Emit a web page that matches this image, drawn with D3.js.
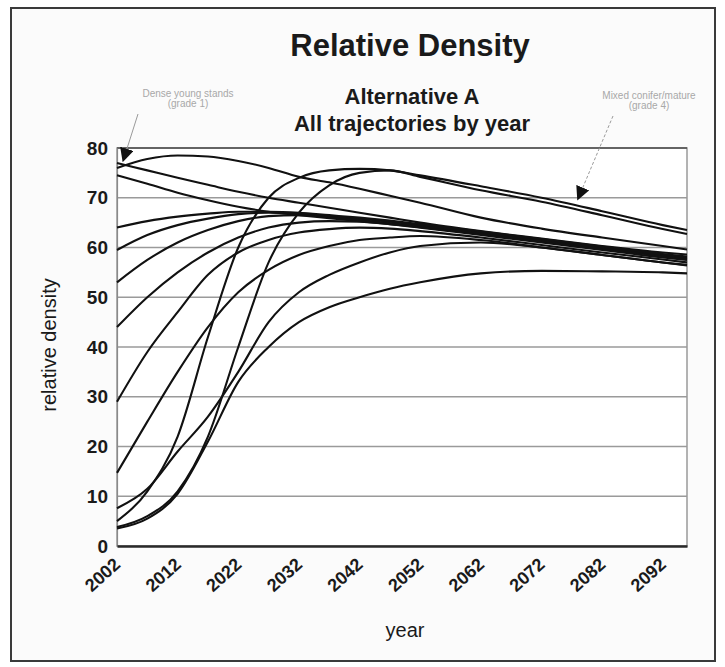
<!DOCTYPE html>
<html>
<head>
<meta charset="utf-8">
<script src="https://cdn.jsdelivr.net/npm/d3@7"></script>
<style>
  html, body { margin: 0; padding: 0; background: #ffffff; }
  svg { display: block; }
  text { font-family: "Liberation Sans", Arial, sans-serif; }
</style>
</head>
<body>
<svg id="chart" width="725" height="667"></svg>
<script>
// Sample years shared by every trajectory
const years = [2002, 2007, 2012, 2017, 2022, 2027, 2032, 2037, 2042, 2047, 2052, 2062, 2072, 2082, 2092, 2096];

// Relative density per trajectory (one value per sample year)
const trajPeakEarly = [76, 77.8, 78.5, 78.3, 77.4, 76, 74.2, 73.1, 71.8, 70.4, 69, 66, 63.8, 62, 60.3, 59.6];
const trajHigh77    = [77, 75.5, 74, 72.6, 71.2, 70, 69, 68, 67, 66, 65, 63.3, 61.8, 60.3, 59, 58.6];
const trajHigh74    = [74.5, 72.8, 71, 69.5, 68.2, 67.2, 66.5, 65.9, 65.3, 64.7, 64.1, 62.7, 61.2, 59.7, 58.3, 57.7];
const trajFastA     = [5, 11, 22, 42, 60, 70, 74, 75.5, 75.8, 75.5, 74.5, 72.3, 70, 67.3, 64.5, 63.5];
const trajFastB     = [3.8, 6, 11, 22, 40, 57, 67, 72.5, 75, 75.5, 74.2, 71.5, 69.2, 66.5, 63.7, 62.7];
const trajSlowA     = [3.5, 5.5, 10.5, 21, 33, 40, 45, 48, 50, 51.7, 53, 54.8, 55.3, 55.2, 55, 54.8];
const trajSlowB     = [7.6, 11.5, 19, 26, 35, 45, 51, 54.5, 57, 59, 60.3, 61, 60, 58.5, 57, 56.4];
const trajStart15   = [14.7, 25, 35, 44, 51, 55.5, 58.5, 60.3, 61.5, 62, 62.3, 61.5, 60, 58.5, 57, 56.5];
const trajStart29   = [29, 39, 47, 54.5, 59, 61.5, 63, 63.7, 64, 63.8, 63.3, 62, 60.5, 59, 57.6, 57];
const trajStart44   = [44, 50, 55, 59, 62, 64, 65, 65.3, 65.2, 64.7, 64, 62.5, 61, 59.5, 58, 57.5];
const trajStart53   = [53, 57.5, 61, 63.5, 65.3, 66.3, 66.5, 66.1, 65.5, 64.9, 64.3, 62.8, 61.3, 59.8, 58.3, 57.8];
const trajStart59   = [59.5, 62.5, 64.5, 65.8, 66.7, 67, 66.8, 66.3, 65.8, 65.2, 64.5, 63, 61.5, 60, 58.5, 58];
const trajStart64   = [64, 65.3, 66.2, 66.8, 67.2, 67.2, 67, 66.5, 66, 65.4, 64.7, 63.2, 61.7, 60.2, 58.7, 58.2];

const trajectories = [
  trajPeakEarly, trajHigh77, trajHigh74, trajFastA, trajFastB, trajSlowA, trajSlowB,
  trajStart15, trajStart29, trajStart44, trajStart53, trajStart59, trajStart64
];

// Axis ticks
const yTicks = [0, 10, 20, 30, 40, 50, 60, 70, 80];
const xTickYears = [2002, 2012, 2022, 2032, 2042, 2052, 2062, 2072, 2082, 2092];

// Titles and notes
const titleText = "Relative Density";
const subtitleLines = ["Alternative A", "All trajectories by year"];
const noteLeft = ["Dense young stands", "(grade 1)"];
const noteRight = ["Mixed conifer/mature", "(grade 4)"];

const svg = d3.select("#chart");

// Frame of the chart
svg.append("rect")
  .attr("x", 11).attr("y", 8).attr("width", 704).attr("height", 653)
  .attr("fill", "#fbfbfb").attr("stroke", "#3a3a3a").attr("stroke-width", 2);

const x = d3.scaleLinear().domain([2002, 2096]).range([117, 687]);
const y = d3.scaleLinear().domain([0, 80]).range([546, 148]);

// Plot area
svg.append("rect")
  .attr("x", x(2002)).attr("y", y(80))
  .attr("width", x(2096) - x(2002)).attr("height", y(0) - y(80))
  .attr("fill", "#ffffff").attr("stroke", "#9a9a9a").attr("stroke-width", 1.5);

// Horizontal gridlines
svg.append("g").selectAll("line")
  .data(yTicks.filter(v => v > 0))
  .join("line")
  .attr("x1", x(2002)).attr("x2", x(2096))
  .attr("y1", d => y(d)).attr("y2", d => y(d))
  .attr("stroke", d => d === 80 ? "#4a4a4a" : "#9a9a9a")
  .attr("stroke-width", 1.6);

// Y axis
const yAxis = svg.append("g")
  .attr("transform", `translate(${x(2002)},0)`)
  .call(d3.axisLeft(y).tickValues(yTicks).tickSize(0).tickPadding(9));
yAxis.select(".domain").attr("stroke", "#8a8a8a").attr("stroke-width", 1.2);
yAxis.selectAll("text")
  .attr("font-size", 19).attr("font-weight", "bold").attr("fill", "#1a1a1a")
  .style("font-family", "'Liberation Sans', Arial, sans-serif");

// X axis
const xAxis = svg.append("g")
  .attr("transform", `translate(0,${y(0)})`)
  .call(d3.axisBottom(x).tickValues(xTickYears).tickSize(0).tickFormat(d3.format("d")));
xAxis.select(".domain").attr("stroke", "#2a2a2a").attr("stroke-width", 2.6);
xAxis.selectAll("text")
  .attr("font-size", 18).attr("font-weight", "bold").attr("fill", "#1a1a1a")
  .style("font-family", "'Liberation Sans', Arial, sans-serif")
  .attr("text-anchor", "end")
  .attr("dy", null)
  .attr("y", 0)
  .attr("transform", "translate(4,20) rotate(-42)");

// Trajectory lines
const line = d3.line()
  .x((d, i) => x(years[i]))
  .y(d => y(d))
  .curve(d3.curveMonotoneX);

svg.append("g").selectAll("path")
  .data(trajectories)
  .join("path")
  .attr("d", d => line(d))
  .attr("fill", "none")
  .attr("stroke", "#111111")
  .attr("stroke-width", 2.1)
  .attr("stroke-linejoin", "round");

// Titles
svg.append("text")
  .attr("x", 410).attr("y", 56)
  .attr("text-anchor", "middle")
  .attr("font-size", 31).attr("font-weight", "bold").attr("fill", "#1a1a1a")
  .text(titleText);

svg.append("g").selectAll("text")
  .data(subtitleLines)
  .join("text")
  .attr("x", 412).attr("y", (d, i) => 104 + i * 27)
  .attr("text-anchor", "middle")
  .attr("font-size", 22).attr("font-weight", "bold").attr("fill", "#1a1a1a")
  .text(d => d);

// Axis titles
svg.append("text")
  .attr("transform", "translate(56,345) rotate(-90)")
  .attr("text-anchor", "middle")
  .attr("font-size", 20).attr("fill", "#1a1a1a")
  .text("relative density");

svg.append("text")
  .attr("x", 405).attr("y", 637)
  .attr("text-anchor", "middle")
  .attr("font-size", 20).attr("fill", "#1a1a1a")
  .text("year");

// Callout notes with arrows
const defs = svg.append("defs");
defs.append("marker")
  .attr("id", "arrowHead")
  .attr("viewBox", "0 0 10 10")
  .attr("refX", 9).attr("refY", 5)
  .attr("markerWidth", 14).attr("markerHeight", 14)
  .attr("markerUnits", "userSpaceOnUse")
  .attr("orient", "auto")
  .append("path")
  .attr("d", "M0,0 L10,5 L0,10 Z")
  .attr("fill", "#111111");

svg.append("g").selectAll("text")
  .data(noteLeft)
  .join("text")
  .attr("x", 188).attr("y", (d, i) => 97 + i * 10)
  .attr("text-anchor", "middle")
  .attr("font-size", 10).attr("fill", "#a8a8a8")
  .text(d => d);

svg.append("g").selectAll("text")
  .data(noteRight)
  .join("text")
  .attr("x", 649).attr("y", (d, i) => 99 + i * 10)
  .attr("text-anchor", "middle")
  .attr("font-size", 10).attr("fill", "#a8a8a8")
  .text(d => d);

svg.append("line")
  .attr("x1", 138).attr("y1", 114)
  .attr("x2", x(2003)).attr("y2", y(trajHigh77[0]) - 2)
  .attr("stroke", "#9a9a9a").attr("stroke-width", 1)
  .attr("marker-end", "url(#arrowHead)");

svg.append("line")
  .attr("x1", 613).attr("y1", 116)
  .attr("x2", x(2078)).attr("y2", y(69.7))
  .attr("stroke", "#9a9a9a").attr("stroke-width", 1)
  .attr("stroke-dasharray", "3,2")
  .attr("marker-end", "url(#arrowHead)");
</script>
</body>
</html>
